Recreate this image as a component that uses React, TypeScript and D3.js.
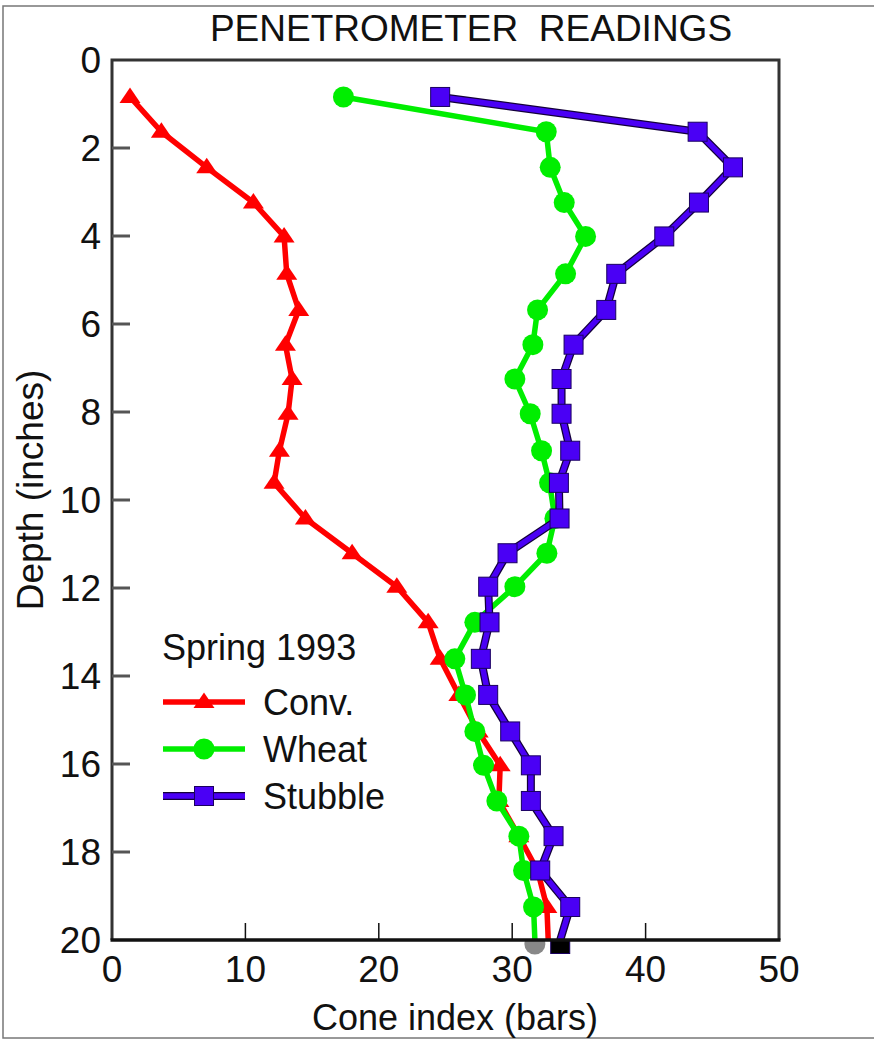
import * as d3 from 'd3';
import { useEffect, useRef } from 'react';

// depth of each reading (inches), shared by the three series
const depths = [
  0.84, 1.63, 2.44, 3.24, 4.01, 4.86, 5.68, 6.47, 7.25, 8.04, 8.88, 9.61, 10.42,
  11.21, 11.97, 12.78, 13.61, 14.43, 15.26, 16.03, 16.84, 17.64, 18.42, 19.25, 20.0,
];

// cone index (bars)
const conv = [
  1.35, 3.7, 7.1, 10.6, 12.9, 13.1, 14.0, 13.0, 13.5, 13.2, 12.55, 12.15, 14.5,
  18.0, 21.35, 23.7, 24.6, 26.0, 27.45, 29.1, 29.0, 30.5, 31.9, 32.6, 32.7,
];
const wheat = [
  17.35, 32.55, 32.85, 33.9, 35.5, 34.0, 31.9, 31.55, 30.2, 31.35, 32.2, 32.8,
  33.2, 32.6, 30.2, 27.2, 25.7, 26.5, 27.2, 27.85, 28.85, 30.5, 30.85, 31.6, 31.7,
];
const stubble = [
  24.6, 43.9, 46.55, 44.0, 41.4, 37.8, 37.05, 34.6, 33.7, 33.7, 34.35, 33.5,
  33.55, 29.65, 28.2, 28.3, 27.65, 28.2, 29.85, 31.4, 31.4, 33.1, 32.1, 34.35, 33.6,
];

const seriesNames = ['Conv.', 'Wheat', 'Stubble'];
const xTicks = [0, 10, 20, 30, 40, 50];
const yTicks = [0, 2, 4, 6, 8, 10, 12, 14, 16, 18, 20];

const W = 874;
const H = 1041;
const FONT = '"Liberation Sans", Arial, Helvetica, sans-serif';

const RED = '#ff0000';
const GREEN = '#00ee00';
const BLUE = '#4a00f5';

const App = () => {
  const ref = useRef<SVGSVGElement | null>(null);

  useEffect(() => {
    if (!ref.current) return;
    const svg = d3.select(ref.current);
    svg.selectAll('*').remove();

    const x = d3.scaleLinear().domain([0, 50]).range([112, 779]);
    const y = d3.scaleLinear().domain([0, 20]).range([60, 940]);

    // outer frame of the figure
    svg
      .append('rect')
      .attr('x', 3)
      .attr('y', 6)
      .attr('width', W + 10)
      .attr('height', 1032)
      .attr('fill', 'none')
      .attr('stroke', '#777')
      .attr('stroke-width', 1.5);

    svg
      .append('text')
      .attr('x', 471)
      .attr('y', 41)
      .attr('text-anchor', 'middle')
      .attr('font-family', FONT)
      .attr('font-size', 37)
      .attr('fill', '#111')
      .attr('xml:space', 'preserve')
      .text('PENETROMETER  READINGS');

    // plot box (top, left, right)
    svg
      .append('path')
      .attr('d', `M${x(0)},${y(20)}V${y(0)}H${x(50)}V${y(20)}`)
      .attr('fill', 'none')
      .attr('stroke', '#333')
      .attr('stroke-width', 3);

    // y ticks, inward
    svg
      .append('g')
      .selectAll('line')
      .data(yTicks.filter((t) => t > 0 && t < 20))
      .enter()
      .append('line')
      .attr('x1', x(0))
      .attr('x2', x(0) + 18)
      .attr('y1', (d) => y(d))
      .attr('y2', (d) => y(d))
      .attr('stroke', '#555')
      .attr('stroke-width', 3);

    svg
      .append('g')
      .selectAll('text')
      .data(yTicks)
      .enter()
      .append('text')
      .attr('x', 101)
      .attr('y', (d) => y(d) + 13)
      .attr('text-anchor', 'end')
      .attr('font-family', FONT)
      .attr('font-size', 37)
      .attr('fill', '#111')
      .text((d) => d);

    // x ticks, upward
    svg
      .append('g')
      .selectAll('line')
      .data(xTicks.filter((t) => t > 0 && t < 50))
      .enter()
      .append('line')
      .attr('x1', (d) => x(d))
      .attr('x2', (d) => x(d))
      .attr('y1', y(20))
      .attr('y2', y(20) - 17)
      .attr('stroke', '#111')
      .attr('stroke-width', 1.5);

    svg
      .append('g')
      .selectAll('text')
      .data(xTicks)
      .enter()
      .append('text')
      .attr('x', (d) => x(d))
      .attr('y', 982)
      .attr('text-anchor', 'middle')
      .attr('font-family', FONT)
      .attr('font-size', 37)
      .attr('fill', '#111')
      .text((d) => d);

    svg
      .append('text')
      .attr('x', 455)
      .attr('y', 1030)
      .attr('text-anchor', 'middle')
      .attr('font-family', FONT)
      .attr('font-size', 36)
      .attr('fill', '#111')
      .text('Cone index (bars)');

    svg
      .append('text')
      .attr('transform', 'translate(43,490) rotate(-90)')
      .attr('text-anchor', 'middle')
      .attr('font-family', FONT)
      .attr('font-size', 37)
      .attr('fill', '#111')
      .text('Depth (inches)');

    // markers
    const triPath = 'M0,-9.5L10.5,6L-10.5,6Z';
    const drawMarker = (
      g: d3.Selection<SVGGElement, unknown, null, undefined>,
      kind: number,
      cx: number,
      cy: number,
      fill: string
    ) => {
      if (kind === 0) {
        g.append('path')
          .attr('d', triPath)
          .attr('transform', `translate(${cx},${cy})`)
          .attr('fill', fill);
      } else if (kind === 1) {
        g.append('circle').attr('cx', cx).attr('cy', cy).attr('r', 10.5).attr('fill', fill);
      } else {
        g.append('rect')
          .attr('x', cx - 9.5)
          .attr('y', cy - 9.5)
          .attr('width', 19)
          .attr('height', 19)
          .attr('fill', fill)
          .attr('stroke', '#1a0060')
          .attr('stroke-width', 1);
      }
    };

    const line = d3
      .line<number>()
      .x((d) => x(d))
      .y((_d, i) => y(depths[i]));

    const series = [
      { values: conv, color: RED, kind: 0, width: 5.5, last: null as string | null },
      { values: wheat, color: GREEN, kind: 1, width: 5.5, last: '#888' },
      { values: stubble, color: BLUE, kind: 2, width: 5.5, last: '#000' },
    ];

    // the bottom readings only show below the axis
    svg
      .append('clipPath')
      .attr('id', 'below-axis')
      .append('rect')
      .attr('x', 0)
      .attr('y', y(20))
      .attr('width', W)
      .attr('height', 30);

    const bottom = svg.append('g').attr('clip-path', 'url(#below-axis)');

    series.forEach((s) => {
      const g = svg.append('g');
      if (s.kind === 2) {
        g.append('path')
          .attr('d', line(s.values) as string)
          .attr('fill', 'none')
          .attr('stroke', '#14003a')
          .attr('stroke-width', s.width + 2.5)
          .attr('stroke-linejoin', 'round');
      }
      g.append('path')
        .attr('d', line(s.values) as string)
        .attr('fill', 'none')
        .attr('stroke', s.color)
        .attr('stroke-width', s.width)
        .attr('stroke-linejoin', 'round');
      s.values.forEach((v, i) => {
        if (i === s.values.length - 1) {
          if (s.last) drawMarker(bottom, s.kind, x(v), y(depths[i]) + 4, s.last);
          return;
        }
        drawMarker(g, s.kind, x(v), y(depths[i]), s.color);
      });
    });

    // x axis on top of everything
    svg
      .append('line')
      .attr('x1', x(0) - 1.5)
      .attr('x2', x(50) + 1.5)
      .attr('y1', y(20))
      .attr('y2', y(20))
      .attr('stroke', '#111')
      .attr('stroke-width', 3.5);

    // legend
    svg
      .append('text')
      .attr('x', 162)
      .attr('y', 660)
      .attr('font-family', FONT)
      .attr('font-size', 36)
      .attr('fill', '#111')
      .text('Spring 1993');

    const legendY = [702, 749, 796];
    series.forEach((s, i) => {
      const g = svg.append('g');
      if (s.kind === 2) {
        g.append('line')
          .attr('x1', 163)
          .attr('x2', 245)
          .attr('y1', legendY[i])
          .attr('y2', legendY[i])
          .attr('stroke', '#14003a')
          .attr('stroke-width', s.width + 2.5);
      }
      g.append('line')
        .attr('x1', 163)
        .attr('x2', 245)
        .attr('y1', legendY[i])
        .attr('y2', legendY[i])
        .attr('stroke', s.color)
        .attr('stroke-width', s.width);
      drawMarker(g, s.kind, 204, legendY[i], s.color);
      g.append('text')
        .attr('x', 263)
        .attr('y', legendY[i] + 13)
        .attr('font-family', FONT)
        .attr('font-size', 36)
        .attr('fill', '#111')
        .text(seriesNames[i]);
    });
  }, []);

  return (
    <div style={{ position: 'absolute', left: 0, top: 0 }}>
      <svg ref={ref} width={W} height={H} style={{ display: 'block', background: '#fff' }} />
    </div>
  );
};

export default App;
